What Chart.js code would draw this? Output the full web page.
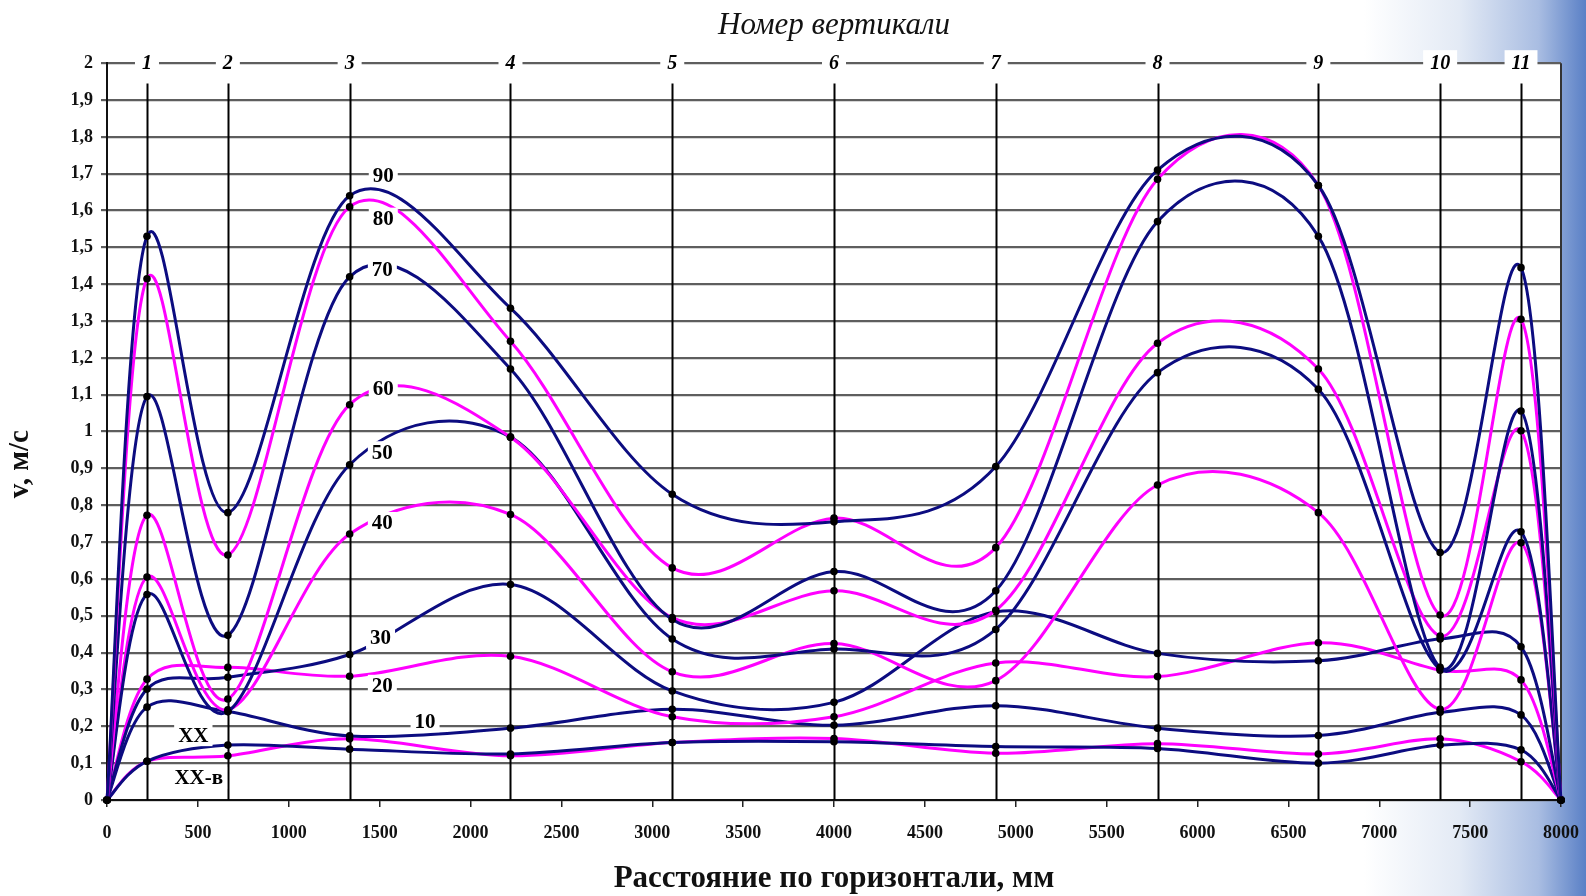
<!DOCTYPE html>
<html>
<head>
<meta charset="utf-8">
<script src="https://cdn.jsdelivr.net/npm/chart.js@4"></script>
<style>
  html, body { margin: 0; padding: 0; }
  body {
    width: 1586px; height: 896px; overflow: hidden;
    background: linear-gradient(90deg, #ffffff 0%, #ffffff 86%, #e3eaf5 92%, #a9bde2 97%, #5a80c6 100%);
  }
  canvas { display: block; }
</style>
</head>
<body>
<canvas id="chart" width="1586" height="896"></canvas>
<script>
// Номера вертикалей и их положение, мм
const verticalNames = ['1', '2', '3', '4', '5', '6', '7', '8', '9', '10', '11'];
const verticalX = [220, 665, 1335, 2220, 3110, 4000, 4890, 5780, 6665, 7335, 7780];
const distanceX = [0, ...verticalX, 8000];

// скорость v, м/с на стенке (0), на вертикалях 1..11 и на стенке (8000)
const v90  = [0, 1.530, 0.780, 1.640, 1.335, 0.830, 0.755, 0.905, 1.710, 1.668, 0.672, 1.445, 0];
const v80  = [0, 1.415, 0.665, 1.610, 1.245, 0.630, 0.765, 0.685, 1.685, 1.668, 0.502, 1.305, 0];
const v70  = [0, 1.095, 0.447, 1.420, 1.170, 0.490, 0.620, 0.568, 1.570, 1.530, 0.360, 1.056, 0];
const v60  = [0, 0.773, 0.274, 1.073, 0.985, 0.495, 0.568, 0.515, 1.240, 1.170, 0.445, 1.002, 0];
const v50  = [0, 0.558, 0.240, 0.910, 0.985, 0.437, 0.410, 0.463, 1.160, 1.115, 0.355, 0.728, 0];
const v40  = [0, 0.605, 0.245, 0.722, 0.775, 0.348, 0.425, 0.324, 0.855, 0.780, 0.246, 0.698, 0];
const v30  = [0, 0.301, 0.333, 0.395, 0.585, 0.296, 0.265, 0.511, 0.398, 0.378, 0.437, 0.416, 0];
const v20  = [0, 0.328, 0.360, 0.336, 0.390, 0.226, 0.226, 0.372, 0.335, 0.427, 0.352, 0.326, 0];
const v10  = [0, 0.252, 0.240, 0.174, 0.195, 0.246, 0.203, 0.256, 0.195, 0.175, 0.238, 0.231, 0];
const vXX  = [0, 0.105, 0.149, 0.138, 0.125, 0.156, 0.158, 0.145, 0.140, 0.100, 0.149, 0.136, 0];
const vXXv = [0, 0.105, 0.120, 0.166, 0.120, 0.156, 0.167, 0.127, 0.153, 0.125, 0.166, 0.104, 0];

const seriesNames = ['90', '80', '70', '60', '50', '40', '30', '20', '10', 'XX', 'XX-в'];
const seriesValues = [v90, v80, v70, v60, v50, v40, v30, v20, v10, vXX, vXXv];

// где стоят подписи кривых (мм, м/с)
const labelX = [1520, 1520, 1515, 1520, 1515, 1515, 1505, 1515, 1750, 475, 505];
const labelY = [1.695, 1.578, 1.440, 1.117, 0.944, 0.752, 0.440, 0.310, 0.214, 0.176, 0.060];

const NAVY = '#0c0c80';
const MAGENTA = '#ff00ff';
const seriesColors = [NAVY, MAGENTA, NAVY, MAGENTA, NAVY, MAGENTA, NAVY, MAGENTA, NAVY, NAVY, MAGENTA];

const SERIF = '"Liberation Serif", "Times New Roman", serif';

const datasets = seriesValues.map((vals, i) => ({
    label: seriesNames[i],
    data: vals.map((v, k) => ({ x: distanceX[k], y: v })),
    borderColor: seriesColors[i],
    borderWidth: 3,
    pointRadius: 3.8,
    pointBackgroundColor: '#000',
    pointBorderWidth: 0,
    tension: 0.4,
    fill: false,
    clip: 8
}));

// сглаживание как в Excel: касательная (P[i+1]-P[i-1])/6, не длиннее половины отрезка
const excelSmooth = {
    id: 'excelSmooth',
    beforeDatasetsDraw(chart) {
        chart.getSortedVisibleDatasetMetas().forEach(meta => {
            const line = meta.dataset;
            line.updateControlPoints(chart.chartArea, meta.iScale.axis);
            const pts = meta.data;
            for (let i = 0; i < pts.length; i++) {
                const p = pts[i];
                const prev = pts[Math.max(i - 1, 0)];
                const next = pts[Math.min(i + 1, pts.length - 1)];
                const tx = (next.x - prev.x) / 6;
                const ty = (next.y - prev.y) / 6;
                const tl = Math.hypot(tx, ty) || 1;
                const kPrev = Math.min(1, Math.hypot(p.x - prev.x, p.y - prev.y) / 2 / tl);
                const kNext = Math.min(1, Math.hypot(next.x - p.x, next.y - p.y) / 2 / tl);
                p.cp1x = p.x - tx * kPrev;
                p.cp1y = p.y - ty * kPrev;
                p.cp2x = p.x + tx * kNext;
                p.cp2y = p.y + ty * kNext;
            }
            line._path = undefined;
        });
    }
};

// белое поле, вертикали и подписи
const decorations = {
    id: 'decorations',
    beforeDraw(chart) {
        const { ctx, chartArea: a } = chart;
        ctx.save();
        ctx.fillStyle = '#fff';
        ctx.fillRect(a.left, a.top, a.right - a.left, a.bottom - a.top);
        ctx.restore();
    },
    beforeDatasetsDraw(chart) {
        const { ctx, chartArea: a, scales: { x, y } } = chart;
        ctx.save();
        ctx.strokeStyle = '#000';
        ctx.lineWidth = 2;
        verticalX.forEach(vx => {
            const px = Math.round(x.getPixelForValue(vx)) + 0.5;
            ctx.beginPath();
            ctx.moveTo(px, y.getPixelForValue(0));
            ctx.lineTo(px, y.getPixelForValue(1.945));
            ctx.stroke();
        });
        // правая рамка
        ctx.strokeStyle = '#333';
        ctx.beginPath();
        ctx.moveTo(a.right, a.top);
        ctx.lineTo(a.right, a.bottom);
        ctx.stroke();
        ctx.restore();
    },
    afterDatasetsDraw(chart) {
        const { ctx, scales: { x, y } } = chart;
        ctx.save();
        ctx.textAlign = 'center';
        ctx.textBaseline = 'middle';

        // номера вертикалей на верхней линии
        ctx.font = 'italic bold 20px ' + SERIF;
        verticalX.forEach((vx, i) => {
            const px = x.getPixelForValue(vx);
            const py = y.getPixelForValue(2);
            const w = ctx.measureText(verticalNames[i]).width + 14;
            ctx.fillStyle = '#fff';
            ctx.fillRect(px - w / 2, py - 13, w, 26);
            ctx.fillStyle = '#000';
            ctx.fillText(verticalNames[i], px, py + 1);
        });

        // подписи кривых
        ctx.font = 'bold 21px ' + SERIF;
        seriesNames.forEach((name, i) => {
            const px = x.getPixelForValue(labelX[i]);
            const py = y.getPixelForValue(labelY[i]);
            const w = ctx.measureText(name).width + 8;
            ctx.fillStyle = '#fff';
            ctx.fillRect(px - w / 2, py - 11, w, 22);
            ctx.fillStyle = '#000';
            ctx.fillText(name, px, py + 1);
        });
        ctx.restore();
    }
};

new Chart(document.getElementById('chart'), {
    type: 'line',
    data: { datasets: datasets },
    plugins: [decorations, excelSmooth],
    options: {
        responsive: false,
        animation: false,
        devicePixelRatio: 1,
        layout: { padding: { left: 0, right: 25, top: 0, bottom: 0 } },
        plugins: {
            legend: { display: false },
            tooltip: { enabled: false },
            title: {
                display: true,
                fullSize: false,
                text: 'Номер вертикали',
                color: '#111',
                font: { family: SERIF, size: 31, style: 'italic', weight: 'normal', lineHeight: 1.2 },
                padding: { top: 7, bottom: 19 }
            }
        },
        scales: {
            x: {
                type: 'linear',
                min: 0,
                max: 8000,
                afterFit: s => {
                    s.height = 96;
                    s.paddingLeft = 0;
                    s.paddingRight = 0;
                },
                ticks: {
                    stepSize: 500,
                    color: '#111',
                    font: { family: SERIF, size: 18, weight: 'bold' },
                    padding: 16,
                    maxRotation: 0,
                    callback: v => String(v)
                },
                grid: {
                    drawOnChartArea: false,
                    color: '#222',
                    lineWidth: 1.5,
                    tickLength: 7
                },
                border: { color: '#111', width: 2 },
                title: {
                    display: true,
                    text: 'Расстояние по горизонтали, мм',
                    color: '#111',
                    font: { family: SERIF, size: 31, weight: 'bold', lineHeight: 1.1 },
                    padding: { top: 0, bottom: 0 }
                }
            },
            y: {
                min: 0,
                max: 2,
                afterFit: s => { s.width = 107; },
                ticks: {
                    stepSize: 0.1,
                    color: '#111',
                    font: { family: SERIF, size: 18, weight: 'bold' },
                    padding: 8,
                    callback: v => Number(v.toFixed(1)).toString().replace('.', ',')
                },
                grid: {
                    color: '#5e5e5e',
                    lineWidth: 2.2,
                    tickLength: 6
                },
                border: { color: '#111', width: 2 },
                title: {
                    display: true,
                    // подпись в оригинале смещена вниз от середины оси
                    text: 'v, м/с' + '\u00a0'.repeat(9),
                    color: '#111',
                    font: { family: SERIF, size: 29, weight: 'bold', lineHeight: 1.2 },
                    padding: { top: 3, bottom: 0 }
                }
            }
        }
    }
});
</script>
</body>
</html>
